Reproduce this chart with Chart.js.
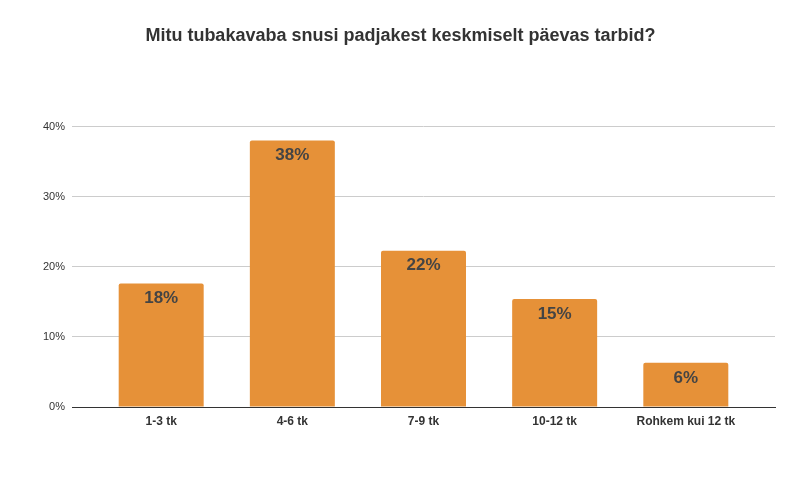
<!DOCTYPE html>
<html>
<head>
<meta charset="utf-8">
<script src="https://cdn.jsdelivr.net/npm/chart.js@4"></script>
<style>
  html, body { margin: 0; padding: 0; background: #fff; }
  #wrap { width: 801px; height: 501px; }
</style>
</head>
<body>
<div id="wrap"><canvas id="chart"></canvas></div>
<script>
const categories = ['1-3 tk', '4-6 tk', '7-9 tk', '10-12 tk', 'Rohkem kui 12 tk'];
const shares = [17.6, 38.0, 22.3, 15.4, 6.3];
const valueLabels = ['18%', '38%', '22%', '15%', '6%'];
const yTicks = [0, 10, 20, 30, 40];

const FONT = '"Liberation Sans", Arial, sans-serif';

// percent text inside the top of each bar
const barLabels = {
  id: 'barLabels',
  afterDatasetsDraw(chart) {
    const ctx = chart.ctx;
    const meta = chart.getDatasetMeta(0);
    ctx.save();
    ctx.font = 'bold 17px ' + FONT;
    ctx.fillStyle = '#444';
    ctx.textAlign = 'center';
    ctx.textBaseline = 'middle';
    meta.data.forEach((bar, i) => {
      ctx.fillText(valueLabels[i], bar.x, bar.y + 15);
    });
    ctx.restore();
  }
};

const ctx = document.getElementById('chart').getContext('2d');
new Chart(ctx, {
  type: 'bar',
  data: {
    datasets: [{
      data: categories.map((c, i) => ({ x: i, y: shares[i] })),
      backgroundColor: '#E69138',
      borderRadius: 2,
      barPercentage: 0.648,
      categoryPercentage: 1
    }]
  },
  options: {
    responsive: true,
    maintainAspectRatio: false,
    animation: false,
    events: [],
    layout: { padding: { left: 26, right: 26, top: 0, bottom: 64 } },
    plugins: {
      legend: { display: false },
      tooltip: { enabled: false },
      title: {
        display: true,
        text: 'Mitu tubakavaba snusi padjakest keskmiselt päevas tarbid?',
        color: '#333',
        font: { family: FONT, size: 18, weight: 'bold' },
        padding: { top: 25, bottom: 80 }
      }
    },
    scales: {
      x: {
        type: 'linear',
        offset: false,
        min: -0.68,
        max: 4.68,
        afterBuildTicks: s => { s.ticks = categories.map((c, i) => ({ value: i })); },
        ticks: {
          callback: v => categories[v],
          color: '#333',
          font: { family: FONT, size: 12, weight: 'bold' },
          padding: 7,
          autoSkip: false,
          maxRotation: 0
        },
        grid: { display: false, drawTicks: false },
        border: { color: '#333', width: 1 },
        afterFit: s => { s.height = 30; }
      },
      y: {
        min: 0,
        max: 40,
        afterBuildTicks: s => { s.ticks = yTicks.map(v => ({ value: v })); },
        ticks: {
          callback: v => v + '%',
          color: '#333',
          font: { family: FONT, size: 11 },
          padding: 7
        },
        grid: { color: '#ccc', drawTicks: false },
        border: { display: false },
        afterFit: s => { s.width = 46; }
      }
    }
  },
  plugins: [barLabels]
});
</script>
</body>
</html>
